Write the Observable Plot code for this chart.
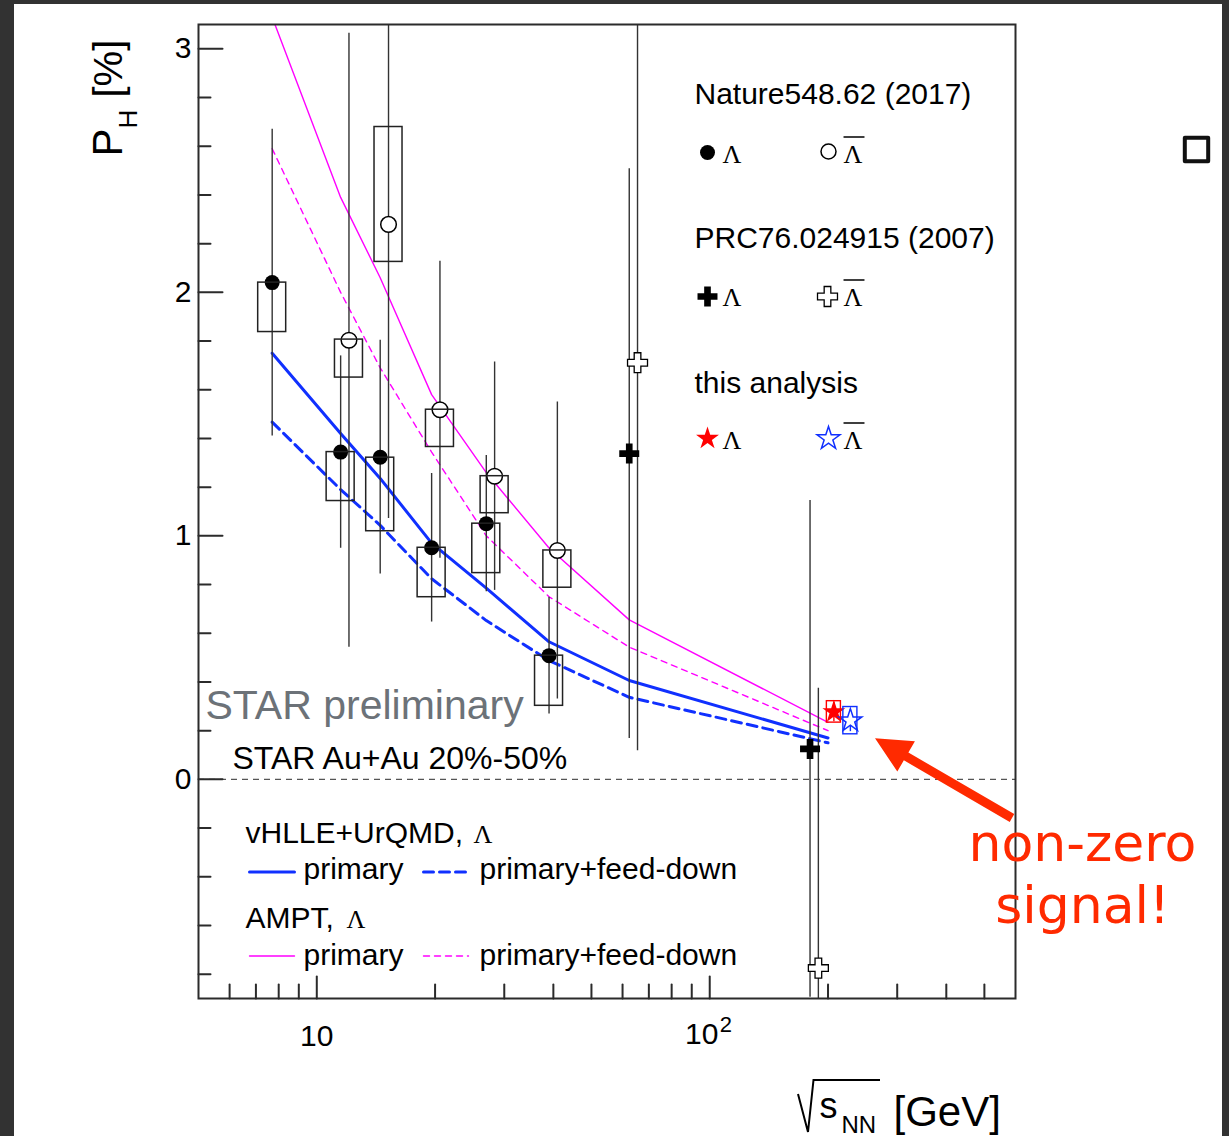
<!DOCTYPE html>
<html>
<head>
<meta charset="utf-8">
<script src="https://cdn.jsdelivr.net/npm/d3@7"></script>
<script src="https://cdn.jsdelivr.net/npm/@observablehq/plot@0.6"></script>
<style>
  html, body { margin: 0; padding: 0; background: #fff; }
  #chart { position: relative; width: 1229px; height: 1136px; overflow: hidden; background: #fff; }
  #chart svg { position: absolute; left: 0; top: 0; }
  .band { position: absolute; background: #323232; }
</style>
</head>
<body>
<div id="chart">
  <div class="band" style="left:0;top:0;width:1229px;height:4px"></div>
  <div class="band" style="left:0;top:0;width:14px;height:1136px"></div>
  <div class="band" style="left:1222px;top:0;width:7px;height:1136px"></div>
</div>
<script>
// ---- STAR, Nature 548 (2017) 62: Lambda ----
const natLamE      = [7.7, 11.5, 14.5, 19.6, 27, 39];
const natLamP      = [2.04, 1.344, 1.323, 0.951, 1.05, 0.508];
const natLamErr    = [0.63, 0.395, 0.48, 0.305, 0.28, 0.24];
const natLamSysLo  = [1.837, 1.143, 1.019, 0.748, 0.847, 0.302];
const natLamSysHi  = [2.04, 1.344, 1.321, 0.951, 1.05, 0.508];

// ---- STAR, Nature 548 (2017) 62: anti-Lambda ----
const natBarE      = [11.5, 14.5, 19.6, 27, 39];
const natBarP      = [1.803, 2.279, 1.518, 1.245, 0.94];
const natBarErr    = [1.261, 1.208, 0.61, 0.469, 0.61];
const natBarSysLo  = [1.65, 2.125, 1.365, 1.093, 0.787];
const natBarSysHi  = [1.806, 2.679, 1.518, 1.245, 0.94];

// ---- STAR, PRC 76 024915 (2007) (plotted sqrt(s) positions) ----
const prcLamX   = [62.4, 180];
const prcLamP   = [1.338, 0.125];
const prcLamErr = [1.17, 1.02];
const prcBarX   = [65.5, 189];
const prcBarP   = [1.711, -0.775];
const prcBarErr = [1.594, 1.149];

// ---- this analysis, 200 GeV (plotted sqrt(s) positions) ----
const thisLamX = [207],  thisLamP = [0.277], thisLamErr = [0.04],  thisLamSys = [0.044];
const thisBarX = [228],  thisBarP = [0.241], thisBarErr = [0.045], thisBarSys = [0.056];

// ---- model curves ----
const modelE        = [7.7, 11.5, 14.5, 19.6, 27, 39, 62.4, 200];
const vhllePrimary  = [1.75, 1.42, 1.236, 0.97, 0.785, 0.565, 0.406, 0.17];
const vhlleFeedDown = [1.467, 1.19, 1.043, 0.824, 0.652, 0.488, 0.337, 0.15];
const amptPrimary   = [3.13, 2.39, 2.06, 1.58, 1.26, 0.95, 0.655, 0.234];
const amptFeedDown  = [2.59, 2.0, 1.69, 1.344, 1.0, 0.75, 0.543, 0.2];

// ---- axis ticks ----
const yMajor = [0, 1, 2, 3];
const yMinor = [-0.8, -0.6, -0.4, -0.2, 0.2, 0.4, 0.6, 0.8, 1.2, 1.4, 1.6, 1.8, 2.2, 2.4, 2.6, 2.8];
const xMajor = [10, 100];
const xMinor = [6, 7, 8, 9, 20, 30, 40, 50, 60, 70, 80, 90, 200, 300, 400, 500];

// ---- layout ----
const W = 1229, H = 1136;
const M = {left: 198, right: 214, top: 24, bottom: 138};
const SANS = "'Liberation Sans', Arial, Helvetica, sans-serif";
const SERIF = "'Liberation Serif', 'Times New Roman', serif";
const BLUE = "#1030ff", MAGENTA = "#ff00ff", RED = "#ff0000", NOTE = "#ff2a00";

// plain straight segment for vector marks (ticks, overlines, legend samples)
const segment = {draw(context, l) { context.moveTo(0, 0); context.lineTo(0, -l); }};

const zip = (keys, ...cols) => cols[0].map((_, i) => Object.fromEntries(keys.map((k, j) => [k, cols[j][i]])));

const natLam = zip(["x", "p", "err", "lo", "hi"], natLamE, natLamP, natLamErr, natLamSysLo, natLamSysHi);
const antiShift = 1.05; // anti-Lambda drawn slightly right of the Lambda point
const natBar = zip(["x", "p", "err", "lo", "hi"], natBarE.map(e => e * antiShift), natBarP, natBarErr, natBarSysLo, natBarSysHi);
const prcLam = zip(["x", "p", "err"], prcLamX, prcLamP, prcLamErr);
const prcBar = zip(["x", "p", "err"], prcBarX, prcBarP, prcBarErr);
const thisLam = zip(["x", "p", "err", "sys"], thisLamX, thisLamP, thisLamErr, thisLamSys);
const thisBar = zip(["x", "p", "err", "sys"], thisBarX, thisBarP, thisBarErr, thisBarSys);

const models = [
  {v: vhllePrimary, stroke: BLUE, width: 3, dash: null},
  {v: vhlleFeedDown, stroke: BLUE, width: 3, dash: "10,6"},
  {v: amptPrimary, stroke: MAGENTA, width: 1.4, dash: null},
  {v: amptFeedDown, stroke: MAGENTA, width: 1.4, dash: "6,5"}
];

const boxK = 1.0855;   // half-width factor of systematic boxes on the log axis
const boxKs = 1.042;

// pixel placement helpers for annotations (relative to the frame's top-left corner)
const at = (px, py) => ({frameAnchor: "top-left", dx: px - M.left, dy: py - M.top});
const label = (str, px, py, o = {}) =>
  Plot.text([str], {text: d => d, ...at(px, py), textAnchor: "start", lineAnchor: "bottom",
                    fontFamily: SANS, fontSize: 30, fill: "black", ...o});
const bar = (px, py, length, o = {}) =>
  Plot.vector([0], {...at(px, py), length, rotate: 90, anchor: "start", shape: segment, stroke: "black", strokeWidth: 1.4, ...o});
const lam = (px, py, over) => [
  label("\u039B", px, py, {fontFamily: SERIF, fontSize: 26}),
  ...(over ? [bar(px + 0.5, py - 25.5, 20)] : [])
];
const sample = (px, py, stroke, width, dash) => bar(px, py, 45, {stroke, strokeWidth: width, strokeDasharray: dash});

// the red arrow pointing at the new measurement
function arrowMark() {
  const tail = [1012, 818], tip = [875, 738.3];
  const len = Math.hypot(tip[0] - tail[0], tip[1] - tail[1]);
  const u = [(tip[0] - tail[0]) / len, (tip[1] - tail[1]) / len];
  const n = [-u[1], u[0]];
  const headLen = 36, headHalf = 17.5, shaftHalf = 4.5;
  const base = [tip[0] - u[0] * headLen, tip[1] - u[1] * headLen];
  const p = (a, s) => [a[0] + n[0] * s, a[1] + n[1] * s];
  const pts = [p(tail, shaftHalf), p(base, shaftHalf), p(base, headHalf), tip, p(base, -headHalf), p(base, -shaftHalf), p(tail, -shaftHalf)];
  const g = d3.create("svg:g");
  g.append("path").attr("d", "M" + pts.map(q => q.join(",")).join("L") + "Z").attr("fill", NOTE);
  return g.node();
}

// radical sign of the x-axis title
function radicalMark() {
  const g = d3.create("svg:g");
  g.append("path").attr("d", "M798,1094L808,1132L813.5,1080L880,1080")
    .attr("fill", "none").attr("stroke", "black").attr("stroke-width", 2);
  return g.node();
}

const tickOpts = {anchor: "start", shape: segment, stroke: "#2b2b2b", strokeWidth: 2};
const NOTE_FONT = "'DejaVu Sans', " + SANS;

const plot = Plot.plot({
  width: W, height: H,
  marginLeft: M.left, marginRight: M.right, marginTop: M.top, marginBottom: M.bottom,
  style: {background: "transparent", fontFamily: SANS, overflow: "visible"},
  x: {type: "log", domain: [5, 600], axis: null},
  y: {domain: [-0.9, 3.1], axis: null},
  marks: [
    // zero reference
    Plot.ruleY([0], {stroke: "#555", strokeWidth: 1.3, strokeDasharray: "6,5"}),

    // model curves
    ...models.map(m => Plot.line(modelE.map((e, i) => ({e, v: m.v[i]})), {
      x: "e", y: "v", stroke: m.stroke, strokeWidth: m.width, strokeDasharray: m.dash, clip: true
    })),

    // statistical error bars
    ...[natLam, natBar, prcLam, prcBar].map(d => Plot.ruleX(d, {
      x: "x", y1: r => r.p - r.err, y2: r => r.p + r.err, stroke: "#333", strokeWidth: 1.4, clip: true
    })),
    Plot.ruleX(thisLam, {x: "x", y1: r => r.p - r.err, y2: r => r.p + r.err, stroke: RED, strokeWidth: 1.4}),
    Plot.ruleX(thisBar, {x: "x", y1: r => r.p - r.err, y2: r => r.p + r.err, stroke: BLUE, strokeWidth: 1.4}),

    // markers
    Plot.dot(natLam, {x: "x", y: "p", symbol: "circle", r: 7.5, fill: "black"}),
    Plot.dot(natBar, {x: "x", y: "p", symbol: "circle", r: 7.8, fill: "white", stroke: "black", strokeWidth: 1.5}),
    Plot.dot(prcLam, {x: "x", y: "p", symbol: "cross", r: 8.4, fill: "black"}),
    Plot.dot(prcBar, {x: "x", y: "p", symbol: "cross", r: 8.4, fill: "white", stroke: "black", strokeWidth: 1.3}),
    Plot.dot(thisLam, {x: "x", y: "p", symbol: "star", r: 7.2, fill: RED}),
    Plot.dot(thisBar, {x: "x", y: "p", symbol: "star", r: 7.2, fill: "white", stroke: BLUE, strokeWidth: 1.5}),

    // systematic boxes
    ...[natLam, natBar].map(d => Plot.rect(d, {
      x1: r => r.x / boxK, x2: r => r.x * boxK, y1: "lo", y2: "hi", fill: "none", stroke: "#222", strokeWidth: 1.5, clip: true
    })),
    Plot.rect(thisLam, {x1: r => r.x / boxKs, x2: r => r.x * boxKs, y1: r => r.p - r.sys, y2: r => r.p + r.sys, fill: "none", stroke: RED, strokeWidth: 1.4}),
    Plot.rect(thisBar, {x1: r => r.x / boxKs, x2: r => r.x * boxKs, y1: r => r.p - r.sys, y2: r => r.p + r.sys, fill: "none", stroke: BLUE, strokeWidth: 1.4}),

    // frame and inward ticks
    Plot.frame({stroke: "#2b2b2b", strokeWidth: 2}),
    Plot.vector(yMajor, {y: d => d, frameAnchor: "left", length: 24, rotate: 90, ...tickOpts}),
    Plot.vector(yMinor, {y: d => d, frameAnchor: "left", length: 12, rotate: 90, ...tickOpts}),
    Plot.vector(xMajor, {x: d => d, frameAnchor: "bottom", length: 22, rotate: 0, ...tickOpts}),
    Plot.vector(xMinor, {x: d => d, frameAnchor: "bottom", length: 14, rotate: 0, ...tickOpts}),

    // tick labels
    Plot.text(yMajor, {y: d => d, text: d => String(d), frameAnchor: "left", dx: -7, textAnchor: "end", fontSize: 30, fontFamily: SANS, fill: "black"}),
    Plot.text([10], {x: d => d, text: () => "10", frameAnchor: "bottom", dy: 47, lineAnchor: "bottom", fontSize: 30, fontFamily: SANS, fill: "black"}),
    Plot.text([100], {x: d => d, text: () => "10", frameAnchor: "bottom", dx: -8, dy: 45, lineAnchor: "bottom", fontSize: 30, fontFamily: SANS, fill: "black"}),
    Plot.text([100], {x: d => d, text: () => "2", frameAnchor: "bottom", dx: 10, dy: 33, lineAnchor: "bottom", textAnchor: "start", fontSize: 22, fontFamily: SANS, fill: "black"}),

    // axis titles
    label("P", 121, 156, {rotate: -90, fontSize: 42}),
    label("H", 136, 128, {rotate: -90, fontSize: 26}),
    label("[%]", 121, 97, {rotate: -90, fontSize: 40}),
    radicalMark,
    label("s", 819, 1117, {fontSize: 36}),
    label("NN", 841, 1132, {fontSize: 24}),
    label("[GeV]", 893, 1125, {fontSize: 42}),

    // data legend
    label("Nature548.62 (2017)", 694, 103),
    Plot.dot([0], {...at(707, 152), symbol: "circle", r: 7.5, fill: "black"}),
    ...lam(722, 162, false),
    Plot.dot([0], {...at(828, 151), symbol: "circle", r: 7.5, fill: "white", stroke: "black", strokeWidth: 1.5}),
    ...lam(843, 162, true),

    label("PRC76.024915 (2007)", 694, 247),
    Plot.dot([0], {...at(707, 296), symbol: "cross", r: 8.4, fill: "black"}),
    ...lam(722, 305, false),
    Plot.dot([0], {...at(827, 296), symbol: "cross", r: 8.4, fill: "white", stroke: "black", strokeWidth: 1.3}),
    ...lam(843, 305, true),

    label("this analysis", 694, 392),
    Plot.dot([0], {...at(707, 438), symbol: "star", r: 7.2, fill: RED}),
    ...lam(722, 448, false),
    Plot.dot([0], {...at(828, 438), symbol: "star", r: 7.2, fill: "white", stroke: BLUE, strokeWidth: 1.5}),
    ...lam(843, 448, true),

    // collaboration labels
    label("STAR preliminary", 205, 718, {fontSize: 41, fill: "#6c7278"}),
    label("STAR Au+Au 20%-50%", 232, 768, {fontSize: 32}),

    // model legend
    label("vHLLE+UrQMD, ", 245, 842),
    label("\u039B", 473, 842, {fontFamily: SERIF, fontSize: 26}),
    sample(249, 871.5, BLUE, 3, null),
    label("primary", 303, 878),
    sample(423, 871.5, BLUE, 3, "10,6"),
    label("primary+feed-down", 479, 878),
    label("AMPT, ", 245, 927),
    label("\u039B", 346, 927, {fontFamily: SERIF, fontSize: 26}),
    sample(249, 955.5, MAGENTA, 1.4, null),
    label("primary", 303, 964),
    sample(423, 955.5, MAGENTA, 1.4, "6,5"),
    label("primary+feed-down", 479, 964),

    // call-out
    arrowMark,
    label("non-zero", 1082, 860, {textAnchor: "middle", fontSize: 52, fill: NOTE, fontFamily: NOTE_FONT}),
    label("signal!", 1082, 922, {textAnchor: "middle", fontSize: 52, fill: NOTE, fontFamily: NOTE_FONT}),

    // small square glyph in the right margin
    Plot.dot([0], {...at(1196, 149), symbol: "square", r: 13.2, fill: "none", stroke: "#111", strokeWidth: 4, strokeLinejoin: "round"})
  ]
});

document.getElementById("chart").prepend(plot);
</script>
</body>
</html>
